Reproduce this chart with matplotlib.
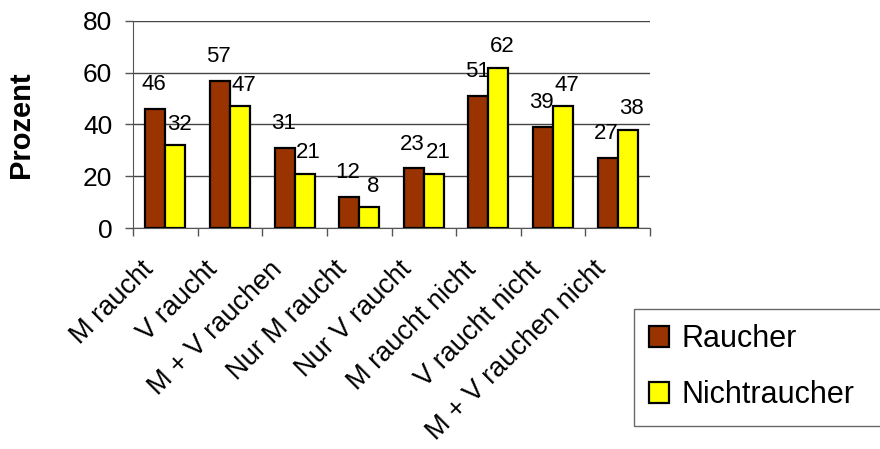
import matplotlib
matplotlib.use("Agg")
import matplotlib.pyplot as plt
import matplotlib.transforms as mtransforms
import numpy as np

plt.rcParams["font.family"] = ["Liberation Sans", "DejaVu Sans"]

categories = ["M raucht", "V raucht", "M + V rauchen", "Nur M raucht", "Nur V raucht",
              "M raucht nicht", "V raucht nicht", "M + V rauchen nicht"]
raucher = [46, 57, 31, 12, 23, 51, 39, 27]
nichtraucher = [32, 47, 21, 8, 21, 62, 47, 38]

fig = plt.figure(figsize=(8.8, 4.49), dpi=100)
ax = fig.add_axes([133 / 880, 1 - 228 / 449, 517 / 880, 207 / 449])

x = np.arange(len(categories))
w = 0.31
ax.bar(x - w / 2, raucher, w, color="#993300", edgecolor="black", linewidth=1.6,
       label="Raucher", zorder=3)
ax.bar(x + w / 2, nichtraucher, w, color="#FFFF00", edgecolor="black", linewidth=1.6,
       label="Nichtraucher", zorder=3)

# data labels, placed a bit above the bars like in excel
for xi, v in zip(x, raucher):
    ax.annotate(str(v), (xi - w / 2, v), xytext=(-1, 10), textcoords="offset points",
                ha="center", va="bottom", fontsize=16)
for xi, v in zip(x, nichtraucher):
    ax.annotate(str(v), (xi + w / 2, v), xytext=(3, 7.5), textcoords="offset points",
                ha="center", va="bottom", fontsize=16)

ax.set_xlim(-0.5, len(categories) - 0.5)
ax.set_ylim(0, 80)
ax.set_yticks([0, 20, 40, 60, 80])
ax.yaxis.grid(True, color="#444444", linewidth=1, zorder=0)
ax.tick_params(axis="y", labelsize=19, length=6, width=1, direction="out", pad=9,
               color="#555555")
ax.spines["top"].set_visible(False)
ax.spines["right"].set_visible(False)
ax.spines["left"].set_color("#555555")
ax.spines["bottom"].set_color("#555555")

ax.set_xticks(x)
ax.set_xticklabels(categories, rotation=45, ha="right", va="center",
                   rotation_mode="anchor", fontsize=19.5)
ax.tick_params(axis="x", which="major", length=0, pad=27)
shift = mtransforms.ScaledTranslation(-16 / 100, 0, fig.dpi_scale_trans)
for lab in ax.get_xticklabels():
    lab.set_transform(lab.get_transform() + shift)
ax.set_xticks(np.arange(-0.5, len(categories)), minor=True)
ax.tick_params(axis="x", which="minor", length=6, width=1, color="#555555")

ax.set_ylabel("Prozent", fontsize=21, fontweight="bold", va="center")
ax.yaxis.set_label_coords(-112 / 517, 0.5)

leg = fig.legend(loc="upper left", bbox_to_anchor=(634 / 880, 1 - 309 / 449, 0.32, 0.0),
                 mode="expand", fontsize=22, frameon=True, fancybox=False,
                 edgecolor="#444444", handlelength=0.66, handleheight=0.66,
                 labelspacing=0.85, borderpad=0.5, handletextpad=0.38, borderaxespad=0)
leg.get_frame().set_linewidth(1)
for h in leg.legend_handles:
    h.set_linewidth(1.6)

fig.savefig("out.png", dpi=100)
